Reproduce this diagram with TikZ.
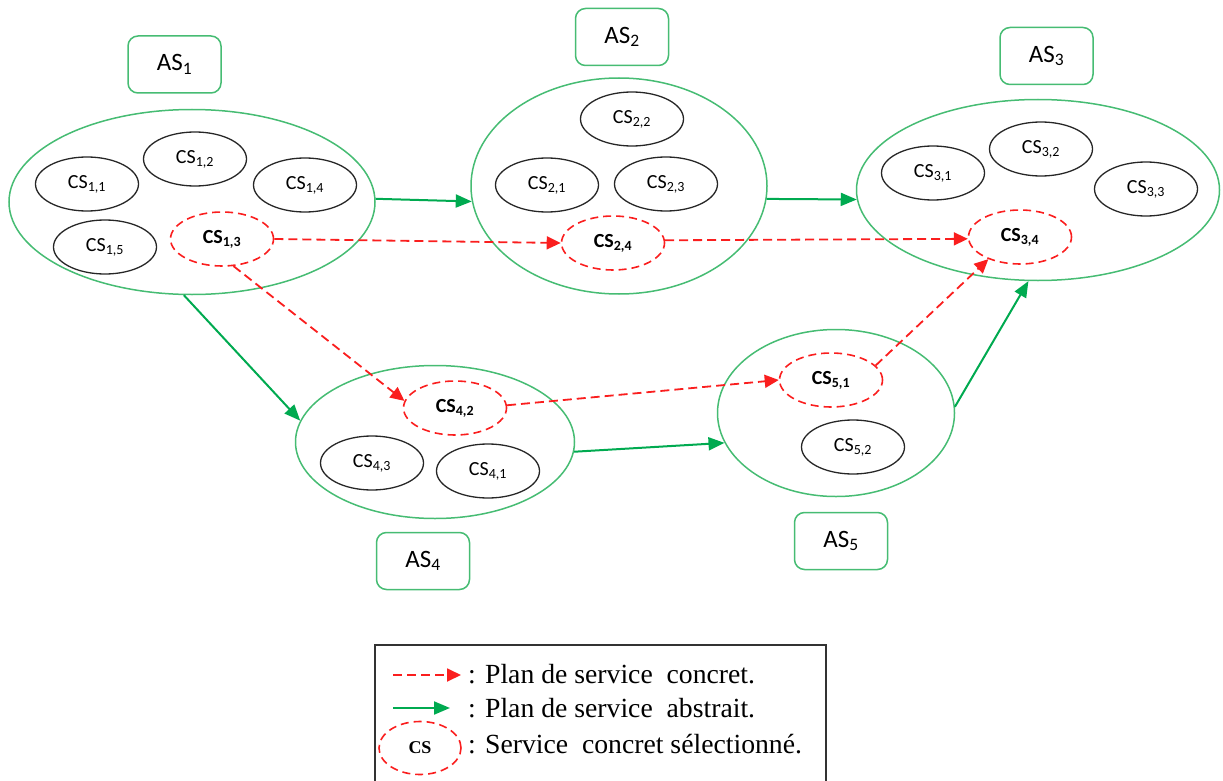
\documentclass[tikz,border=0pt]{standalone}
\usepackage{fontspec}
\setmainfont{Carlito}
\newfontfamily\timesf{Liberation Serif}
\usetikzlibrary{shapes.geometric,arrows.meta}
\definecolor{asgreen}{RGB}{70,188,115}
\definecolor{argreen}{RGB}{0,170,80}
\definecolor{selred}{RGB}{250,30,30}
\begin{document}
\begin{tikzpicture}[x=1pt,y=-1pt,
  asbox/.style={draw=asgreen,line width=1.5pt,rounded corners=10pt,minimum width=93pt,minimum height=57pt,inner sep=0pt,font=\fontsize{25}{30}\selectfont},
  big/.style={ellipse,draw=asgreen,line width=1.5pt,inner sep=0pt},
  cs/.style={ellipse,draw=black!85,line width=1.3pt,minimum width=103pt,minimum height=54pt,inner sep=0pt,font=\fontsize{20}{24}\selectfont},
  sel/.style={cs,draw=selred,line width=1.6pt,dash pattern=on 8pt off 5pt,font=\fontsize{20}{24}\selectfont\bfseries},
  garrow/.style={draw=argreen,line width=2pt,-{Triangle[length=16pt,width=13pt]}},
  rarrow/.style={draw=selred,line width=1.8pt,dash pattern=on 9pt off 5pt,-{Triangle[length=14pt,width=13pt]}},
  legtext/.style={anchor=base west,inner sep=0pt,font=\timesf\fontsize{27.7}{32}\selectfont}
]
\useasboundingbox (0,0) rectangle (1223,781);
% abstract service labels
\node[asbox] (as1) at (174.5,64.5) {AS\textsubscript{1}};
\node[asbox] (as2) at (622,37) {AS\textsubscript{2}};
\node[asbox] (as3) at (1046.5,56) {AS\textsubscript{3}};
\node[asbox] (as4) at (423,561) {AS\textsubscript{4}};
\node[asbox] (as5) at (841,541) {AS\textsubscript{5}};
% big ellipses
\node[big,minimum width=366pt,minimum height=185pt] (e1) at (192,202) {};
\node[big,minimum width=296pt,minimum height=216pt] (e2) at (619,186) {};
\node[big,minimum width=363pt,minimum height=181pt] (e3) at (1038,190) {};
\node[big,minimum width=279pt,minimum height=153pt] (e4) at (435,442) {};
\node[big,minimum width=237pt,minimum height=167pt] (e5) at (836,413) {};
% concrete services
\node[cs] (cs11) at (87,184) {CS\textsubscript{1,1}};
\node[cs] (cs12) at (195,159) {CS\textsubscript{1,2}};
\node[cs] (cs14) at (305,185) {CS\textsubscript{1,4}};
\node[cs] (cs15) at (105,247) {CS\textsubscript{1,5}};
\node[sel] (cs13) at (222,239) {CS\textsubscript{1,3}};
\node[cs] (cs22) at (632,119) {CS\textsubscript{2,2}};
\node[cs] (cs21) at (547,185) {CS\textsubscript{2,1}};
\node[cs] (cs23) at (666,184) {CS\textsubscript{2,3}};
\node[sel] (cs24) at (613,243) {CS\textsubscript{2,4}};
\node[cs] (cs31) at (933,173) {CS\textsubscript{3,1}};
\node[cs] (cs32) at (1041,149) {CS\textsubscript{3,2}};
\node[cs] (cs33) at (1146,189) {CS\textsubscript{3,3}};
\node[sel] (cs34) at (1020,237) {CS\textsubscript{3,4}};
\node[sel] (cs42) at (455,408) {CS\textsubscript{4,2}};
\node[cs] (cs43) at (372,463) {CS\textsubscript{4,3}};
\node[cs] (cs41) at (488,471) {CS\textsubscript{4,1}};
\node[sel] (cs51) at (831,380) {CS\textsubscript{5,1}};
\node[cs] (cs52) at (853,447) {CS\textsubscript{5,2}};
% abstract plan arrows
\draw[garrow] (e1.1) -- (e2.186);
\draw[garrow] (e2.-5) -- (e3.183);
\draw[garrow] (e1.-95) -- (e4.171);
\draw[garrow] (e4.-4.5) -- (e5.195);
\draw[garrow] (e5.3.4) -- (e3.264);
% concrete plan arrows
\draw[rarrow] (cs13.east) -- (cs24.west);
\draw[rarrow] (cs13.-67) -- (cs42.172);
\draw[rarrow] (cs24.3) -- (cs34.182);
\draw[rarrow] (cs42.3) -- (cs51.west);
\draw[rarrow] (cs51.18) -- (cs34.215);
% legend
\node[draw=black!80,line width=1.4pt,minimum width=451pt,minimum height=160pt,inner sep=0pt] (leg) at (600.5,725) {};
\coordinate (la1) at (393,675);
\coordinate (la2) at (461,675);
\coordinate (lb1) at (393,708);
\coordinate (lb2) at (450,708);
\draw[rarrow] (la1) -- (la2);
\draw[garrow] (lb1) -- (lb2);
\node[sel,minimum width=82pt,minimum height=53pt,font=\timesf\fontsize{18}{20}\selectfont\bfseries] (lcs) at (420,748) {CS};
\node[legtext] (t1) at (468,683) {: Plan de service\ \ concret.};
\node[legtext] (t2) at (468,717) {: Plan de service\ \ abstrait.};
\node[legtext] (t3) at (468,753) {: Service\ \ concret sélectionné.};
\end{tikzpicture}
\end{document}
